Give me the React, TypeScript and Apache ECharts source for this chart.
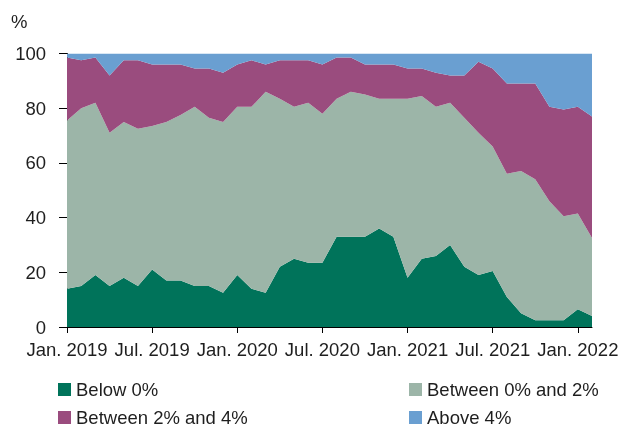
import React, { useEffect, useRef } from "react";
import * as echarts from "echarts";

const monthNames = ["Jan.", "Feb.", "Mar.", "Apr.", "May", "Jun.", "Jul.", "Aug.", "Sep.", "Oct.", "Nov.", "Dec."];
const categories: string[] = [];
for (let y = 2019; y <= 2022; y++) {
  for (let m = 0; m < 12; m++) {
    if (y === 2022 && m > 1) break;
    categories.push(`${monthNames[m]} ${y}`);
  }
}

const below0 = [
  14, 15, 19, 15, 18, 15, 21, 17, 17, 15, 15, 12.5,
  19, 14, 12.5, 22, 25, 23.5, 23.5, 33, 33, 33, 36, 33,
  18, 25, 26, 30, 22, 19, 20.5, 11, 5, 2.5, 2.5, 2.5,
  6.5, 4,
];
const between0and2 = [
  61.5, 65, 63, 56, 57, 57.5, 52.5, 58, 60.5, 65.5, 61.5, 62.5,
  61.5, 66.5, 73.5, 61.5, 55.5, 58.5, 54.5, 50.5, 53, 52, 47.5, 50.5,
  65.5, 59.5, 54.5, 52, 54.5, 52, 45.5, 45, 52, 51.5, 43.5, 38,
  35, 28.5,
];
const between2and4 = [
  23, 17.5, 16.5, 21, 22.5, 25, 22.5, 21, 18.5, 14, 18, 18,
  15.5, 17, 10, 14, 17, 15.5, 18, 15, 12.5, 11, 12.5, 12.5,
  11, 10, 12.5, 10, 15.5, 26, 28.5, 33, 32, 35, 34.5, 39,
  39, 44.5,
];
const above4 = [
  1.5, 2.5, 1.5, 8, 2.5, 2.5, 4, 4, 4, 5.5, 5.5, 7,
  4, 2.5, 4, 2.5, 2.5, 2.5, 4, 1.5, 1.5, 4, 4, 4,
  5.5, 5.5, 7, 8, 8, 3, 5.5, 11, 11, 11, 19.5, 20.5,
  19.5, 23,
];

const seriesNames = ["Below 0%", "Between 0% and 2%", "Between 2% and 4%", "Above 4%"];
const seriesColors = ["#00735a", "#9cb5a8", "#9a4c7e", "#6a9fd1"];
const seriesData = [below0, between0and2, between2and4, above4];

const FONT = "'Liberation Sans', Arial, Helvetica, sans-serif";
const TEXT = "#1e1e1e";
const FS = 18.5;

export default function App() {
  const ref = useRef<HTMLDivElement>(null);
  useEffect(() => {
    if (!ref.current) return;
    const chart = echarts.init(ref.current, undefined, { renderer: "svg" });
    const legendPos = [
      { left: 58, top: 380 },
      { left: 409, top: 380 },
      { left: 58, top: 408 },
      { left: 409, top: 408 },
    ];
    chart.setOption({
      animation: false,
      textStyle: { fontFamily: FONT },
      grid: { left: 67, right: 32, top: 53.5, bottom: 97 },
      legend: seriesNames.map((n, i) => ({
        data: [n],
        left: legendPos[i].left,
        top: legendPos[i].top,
        icon: "rect",
        itemWidth: 13,
        itemHeight: 13,
        itemGap: 0,
        padding: 0,
        textStyle: { fontSize: FS, color: TEXT, fontFamily: FONT },
      })),
      graphic: [
        {
          type: "text",
          left: 11,
          top: 12,
          style: { text: "%", fontSize: FS, fill: TEXT, fontFamily: FONT },
        },
      ],
      xAxis: {
        type: "category",
        data: categories,
        boundaryGap: false,
        axisLine: { lineStyle: { color: "#000", width: 1 } },
        axisTick: { interval: 5, length: 6, lineStyle: { color: "#000" } },
        axisLabel: { interval: 5, fontSize: FS, color: TEXT, margin: 13, fontFamily: FONT },
        splitLine: { show: false },
      },
      yAxis: {
        type: "value",
        min: 0,
        max: 100,
        interval: 20,
        axisLine: { show: true, lineStyle: { color: "#000", width: 1 } },
        axisTick: { show: true, length: 8, lineStyle: { color: "#000" } },
        axisLabel: { fontSize: FS, color: TEXT, margin: 21, fontFamily: FONT },
        splitLine: { show: false },
      },
      series: seriesNames.map((n, i) => ({
        name: n,
        type: "line",
        stack: "total",
        data: seriesData[i],
        showSymbol: false,
        symbol: "none",
        lineStyle: { width: 0 },
        areaStyle: { color: seriesColors[i], opacity: 1 },
        itemStyle: { color: seriesColors[i] },
        z: 2,
      })),
    });
    return () => chart.dispose();
  }, []);
  return (
    <div
      ref={ref}
      style={{ position: "fixed", left: 0, top: 0, width: 624, height: 424 }}
    />
  );
}
